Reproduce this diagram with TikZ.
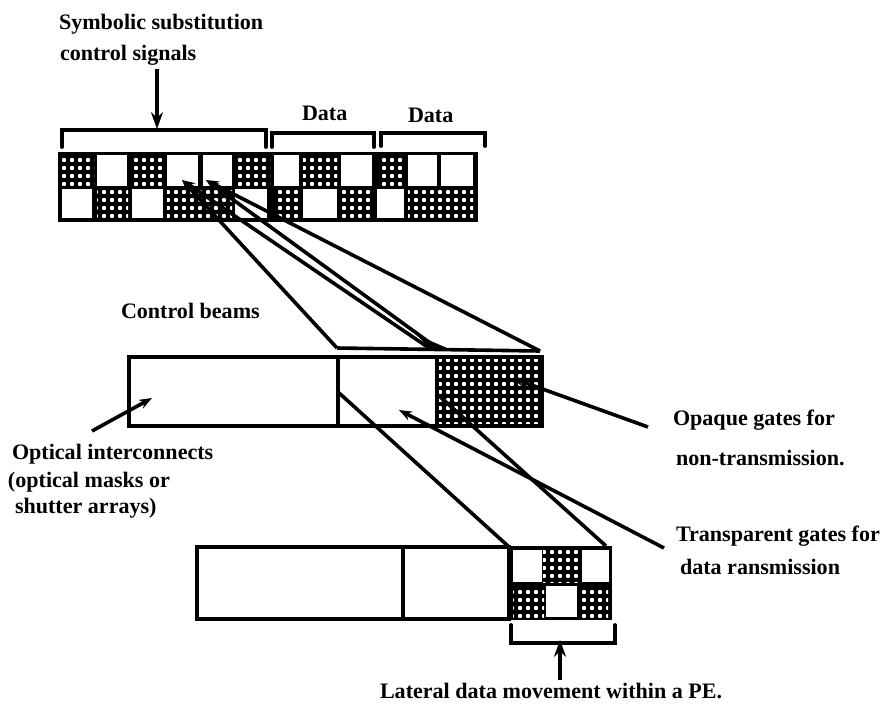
\documentclass[tikz,border=0pt]{standalone}
\usepackage{fontspec}
\setmainfont{Liberation Serif}
\usetikzlibrary{arrows.meta, patterns.meta}

\begin{document}
\begin{tikzpicture}[
    every node/.style = {inner sep=0pt, outer sep=0pt},
    opencell/.style = {fill=white},
    gatecell/.style = {preaction={fill=black}, pattern={Dots[distance=0.2cm, radius=0.055cm]}, pattern color=white},
    uprow/.style    = {minimum height=0.775cm},
    lowrow/.style   = {minimum height=0.725cm},
    mask/.style     = {draw, line width=0.09cm, fill=white},
    txt/.style      = {anchor=west, font=\bfseries\fontsize{15.7}{20}\selectfont},
    brace/.style    = {line width=0.095cm, line cap=round},
    beam/.style     = {line width=0.09cm},
    arr/.style      = {-{Stealth[length=0.32cm,width=0.24cm]}, line width=0.09cm},
    bigarr/.style   = {-{Stealth[length=0.42cm,width=0.3cm]}, line width=0.1cm},
]
\useasboundingbox (0cm,0cm) rectangle (22cm,-17.6cm);

%% Labels
\node[txt] (subst)  at (1.475cm,  -0.6cm)   {Symbolic substitution};
\node[txt] (signal) at (1.5cm,    -1.375cm) {control signals};
\node[txt] (data1)  at (7.55cm,   -2.825cm) {Data};
\node[txt] (data2)  at (10.2cm,   -2.875cm) {Data};
\node[txt] (beams)  at (3.025cm,  -7.775cm) {Control beams};
\node[txt] (optic1) at (0.3cm,   -11.35cm)  {Optical interconnects};
\node[txt] (optic2) at (0.2cm,   -12.05cm)  {(optical masks or};
\node[txt] (optic3) at (0.375cm, -12.7cm)   {shutter arrays)};
\node[txt] (opaq1)  at (16.825cm,-10.5cm)   {Opaque gates for};
\node[txt] (opaq2)  at (16.9cm,  -11.45cm)  {non-transmission.};
\node[txt] (tran1)  at (16.9cm,  -13.4cm)   {Transparent gates for};
\node[txt] (tran2)  at (17cm,    -14.175cm) {data ransmission};
\node[txt] (later)  at (9.5cm,   -17.275cm) {Lateral data movement within a PE.};

%% Top strip
\node[fill=black, minimum width=10.5cm, minimum height=1.75cm] (strip) at (6.7cm,-4.675cm) {};

\node[gatecell, uprow, minimum width=0.8cm]   (t1)  at (1.95cm,  -4.2625cm) {};
\node[opencell, uprow, minimum width=0.75cm]  (t2)  at (2.8cm,   -4.2625cm) {};
\node[gatecell, uprow, minimum width=0.775cm] (t3)  at (3.6875cm,-4.2625cm) {};
\node[opencell, uprow, minimum width=0.775cm] (t4)  at (4.5625cm,-4.2625cm) {};
\node[opencell, uprow, minimum width=0.725cm] (t5)  at (5.4375cm,-4.2625cm) {};
\node[gatecell, uprow, minimum width=0.85cm]  (t6)  at (6.325cm, -4.2625cm) {};
\node[opencell, uprow, minimum width=0.625cm] (t7)  at (7.1625cm,-4.2625cm) {};
\node[gatecell, uprow, minimum width=0.85cm]  (t8)  at (8cm,     -4.2625cm) {};
\node[opencell, uprow, minimum width=0.775cm] (t9)  at (8.9125cm,-4.2625cm) {};
\node[gatecell, uprow, minimum width=0.675cm] (t10) at (9.7875cm,-4.2625cm) {};
\node[opencell, uprow, minimum width=0.725cm] (t11) at (10.5625cm,-4.2625cm) {};
\node[opencell, uprow, minimum width=0.8cm]   (t12) at (11.425cm,-4.2625cm) {};

\node[opencell, lowrow, minimum width=0.75cm]  (u1)  at (1.925cm, -5.0875cm) {};
\node[gatecell, lowrow, minimum width=0.775cm] (u2)  at (2.8125cm,-5.0875cm) {};
\node[opencell, lowrow, minimum width=0.775cm] (u3)  at (3.6875cm,-5.0875cm) {};
\node[gatecell, lowrow, minimum width=1.625cm] (u4)  at (4.9875cm,-5.0875cm) {};
\node[opencell, lowrow, minimum width=0.8cm]   (u5)  at (6.275cm, -5.0875cm) {};
\node[gatecell, lowrow, minimum width=0.625cm] (u6)  at (7.1875cm,-5.0875cm) {};
\node[opencell, lowrow, minimum width=0.85cm]  (u7)  at (8cm,     -5.0875cm) {};
\node[gatecell, lowrow, minimum width=0.8cm]   (u8)  at (8.9cm,   -5.0875cm) {};
\node[opencell, lowrow, minimum width=0.675cm] (u9)  at (9.7625cm,-5.0875cm) {};
\node[gatecell, lowrow, minimum width=1.625cm] (u10) at (11.0125cm,-5.0875cm) {};

%% Brackets
\draw[brace] (1.55cm,-3.675cm) -- (1.55cm,-3.25cm) -- (6.65cm,-3.25cm) -- (6.65cm,-3.675cm);
\draw[brace] (6.8cm,-3.675cm) -- (6.8cm,-3.325cm) -- (9.35cm,-3.325cm) -- (9.35cm,-3.675cm);
\draw[brace] (9.525cm,-3.65cm) -- (9.525cm,-3.325cm) -- (12.125cm,-3.325cm) -- (12.125cm,-3.65cm);
\draw[brace] (12.775cm,-15.625cm) -- (12.775cm,-16.075cm) -- (15.375cm,-16.075cm) -- (15.375cm,-15.625cm);

%% Middle mask
\node[mask, minimum width=5.225cm, minimum height=1.725cm] (midl) at (5.8375cm,-9.7875cm) {};
\node[mask, minimum width=2.475cm, minimum height=1.725cm] (midc) at (9.6875cm,-9.7875cm) {};
\node[gatecell, draw, line width=0.09cm, minimum width=2.625cm, minimum height=1.725cm] (midr) at (12.2375cm,-9.7875cm) {};

%% Lower mask
\node[mask, minimum width=5.15cm, minimum height=1.8cm] (lowl) at (7.5cm,-14.575cm) {};
\node[mask, minimum width=2.65cm, minimum height=1.8cm] (lowc) at (11.4cm,-14.575cm) {};
\node[fill=black, minimum width=2.6cm, minimum height=1.85cm] (pe) at (14cm,-14.575cm) {};

\node[opencell, minimum width=0.725cm, minimum height=0.8cm]   (p1) at (13.1875cm,-14.15cm) {};
\node[gatecell, minimum width=0.925cm, minimum height=0.8cm]   (p2) at (14.0375cm,-14.15cm) {};
\node[opencell, minimum width=0.675cm, minimum height=0.8cm]   (p3) at (14.8875cm,-14.15cm) {};
\node[gatecell, minimum width=0.775cm, minimum height=0.775cm] (p4) at (13.2125cm,-15.0375cm) {};
\node[opencell, minimum width=0.775cm, minimum height=0.775cm] (p5) at (14.0375cm,-15.0375cm) {};
\node[gatecell, minimum width=0.7cm,   minimum height=0.775cm] (p6) at (14.85cm,-15.0375cm) {};

%% Free ends
\coordinate (sigtail) at (3.925cm,-1.725cm);
\coordinate (sigtip)  at (3.925cm,-3.225cm);
\coordinate (fana)    at (4.55cm,-4.5cm);
\coordinate (fanb)    at (5.15cm,-4.5cm);
\coordinate (foot1)   at (8.425cm,-8.7cm);
\coordinate (foot2)   at (10.725cm,-8.7cm);
\coordinate (foot3)   at (10.925cm,-8.7cm);
\coordinate (foot4)   at (11.175cm,-8.7cm);
\coordinate (foot5)   at (13.5cm,-8.775cm);
\coordinate (merge)   at (10.425cm,-8.375cm);
\coordinate (drop1)   at (8.45cm,-9.8cm);
\coordinate (drop2)   at (10.925cm,-9.85cm);
\coordinate (land1)   at (12.7cm,-13.65cm);
\coordinate (land2)   at (15.15cm,-13.65cm);
\coordinate (opqtail) at (16.2cm,-10.675cm);
\coordinate (opqtip)  at (12.8cm,-9.45cm);
\coordinate (trntail) at (16.6cm,-13.7cm);
\coordinate (trntip)  at (9.975cm,-10.25cm);
\coordinate (opttail) at (2.3cm,-10.775cm);
\coordinate (opttip)  at (3.8cm,-9.95cm);
\coordinate (lattail) at (14cm,-17cm);
\coordinate (lattip)  at (14cm,-16cm);

%% Beams from the strip
\draw[arr] (foot1) -- (fana);
\draw[arr] (foot2) -- (fana);
\draw[arr] (foot3) -- (fanb);
\draw[arr] (foot5) -- (fanb);
\draw[beam] (foot1) -- (foot5);
\fill (merge) -- (foot4) -- (foot2) -- cycle;

%% Beams to the lower mask
\draw[beam] (drop1) -- (land1);
\draw[beam] (drop2) -- (land2);

%% Pointers
\draw[bigarr] (sigtail) -- (sigtip);
\draw[bigarr] (lattail) -- (lattip);
\draw[arr] (opqtail) -- (opqtip);
\draw[arr] (trntail) -- (trntip);
\draw[arr] (opttail) -- (opttip);

\end{tikzpicture}
\end{document}
